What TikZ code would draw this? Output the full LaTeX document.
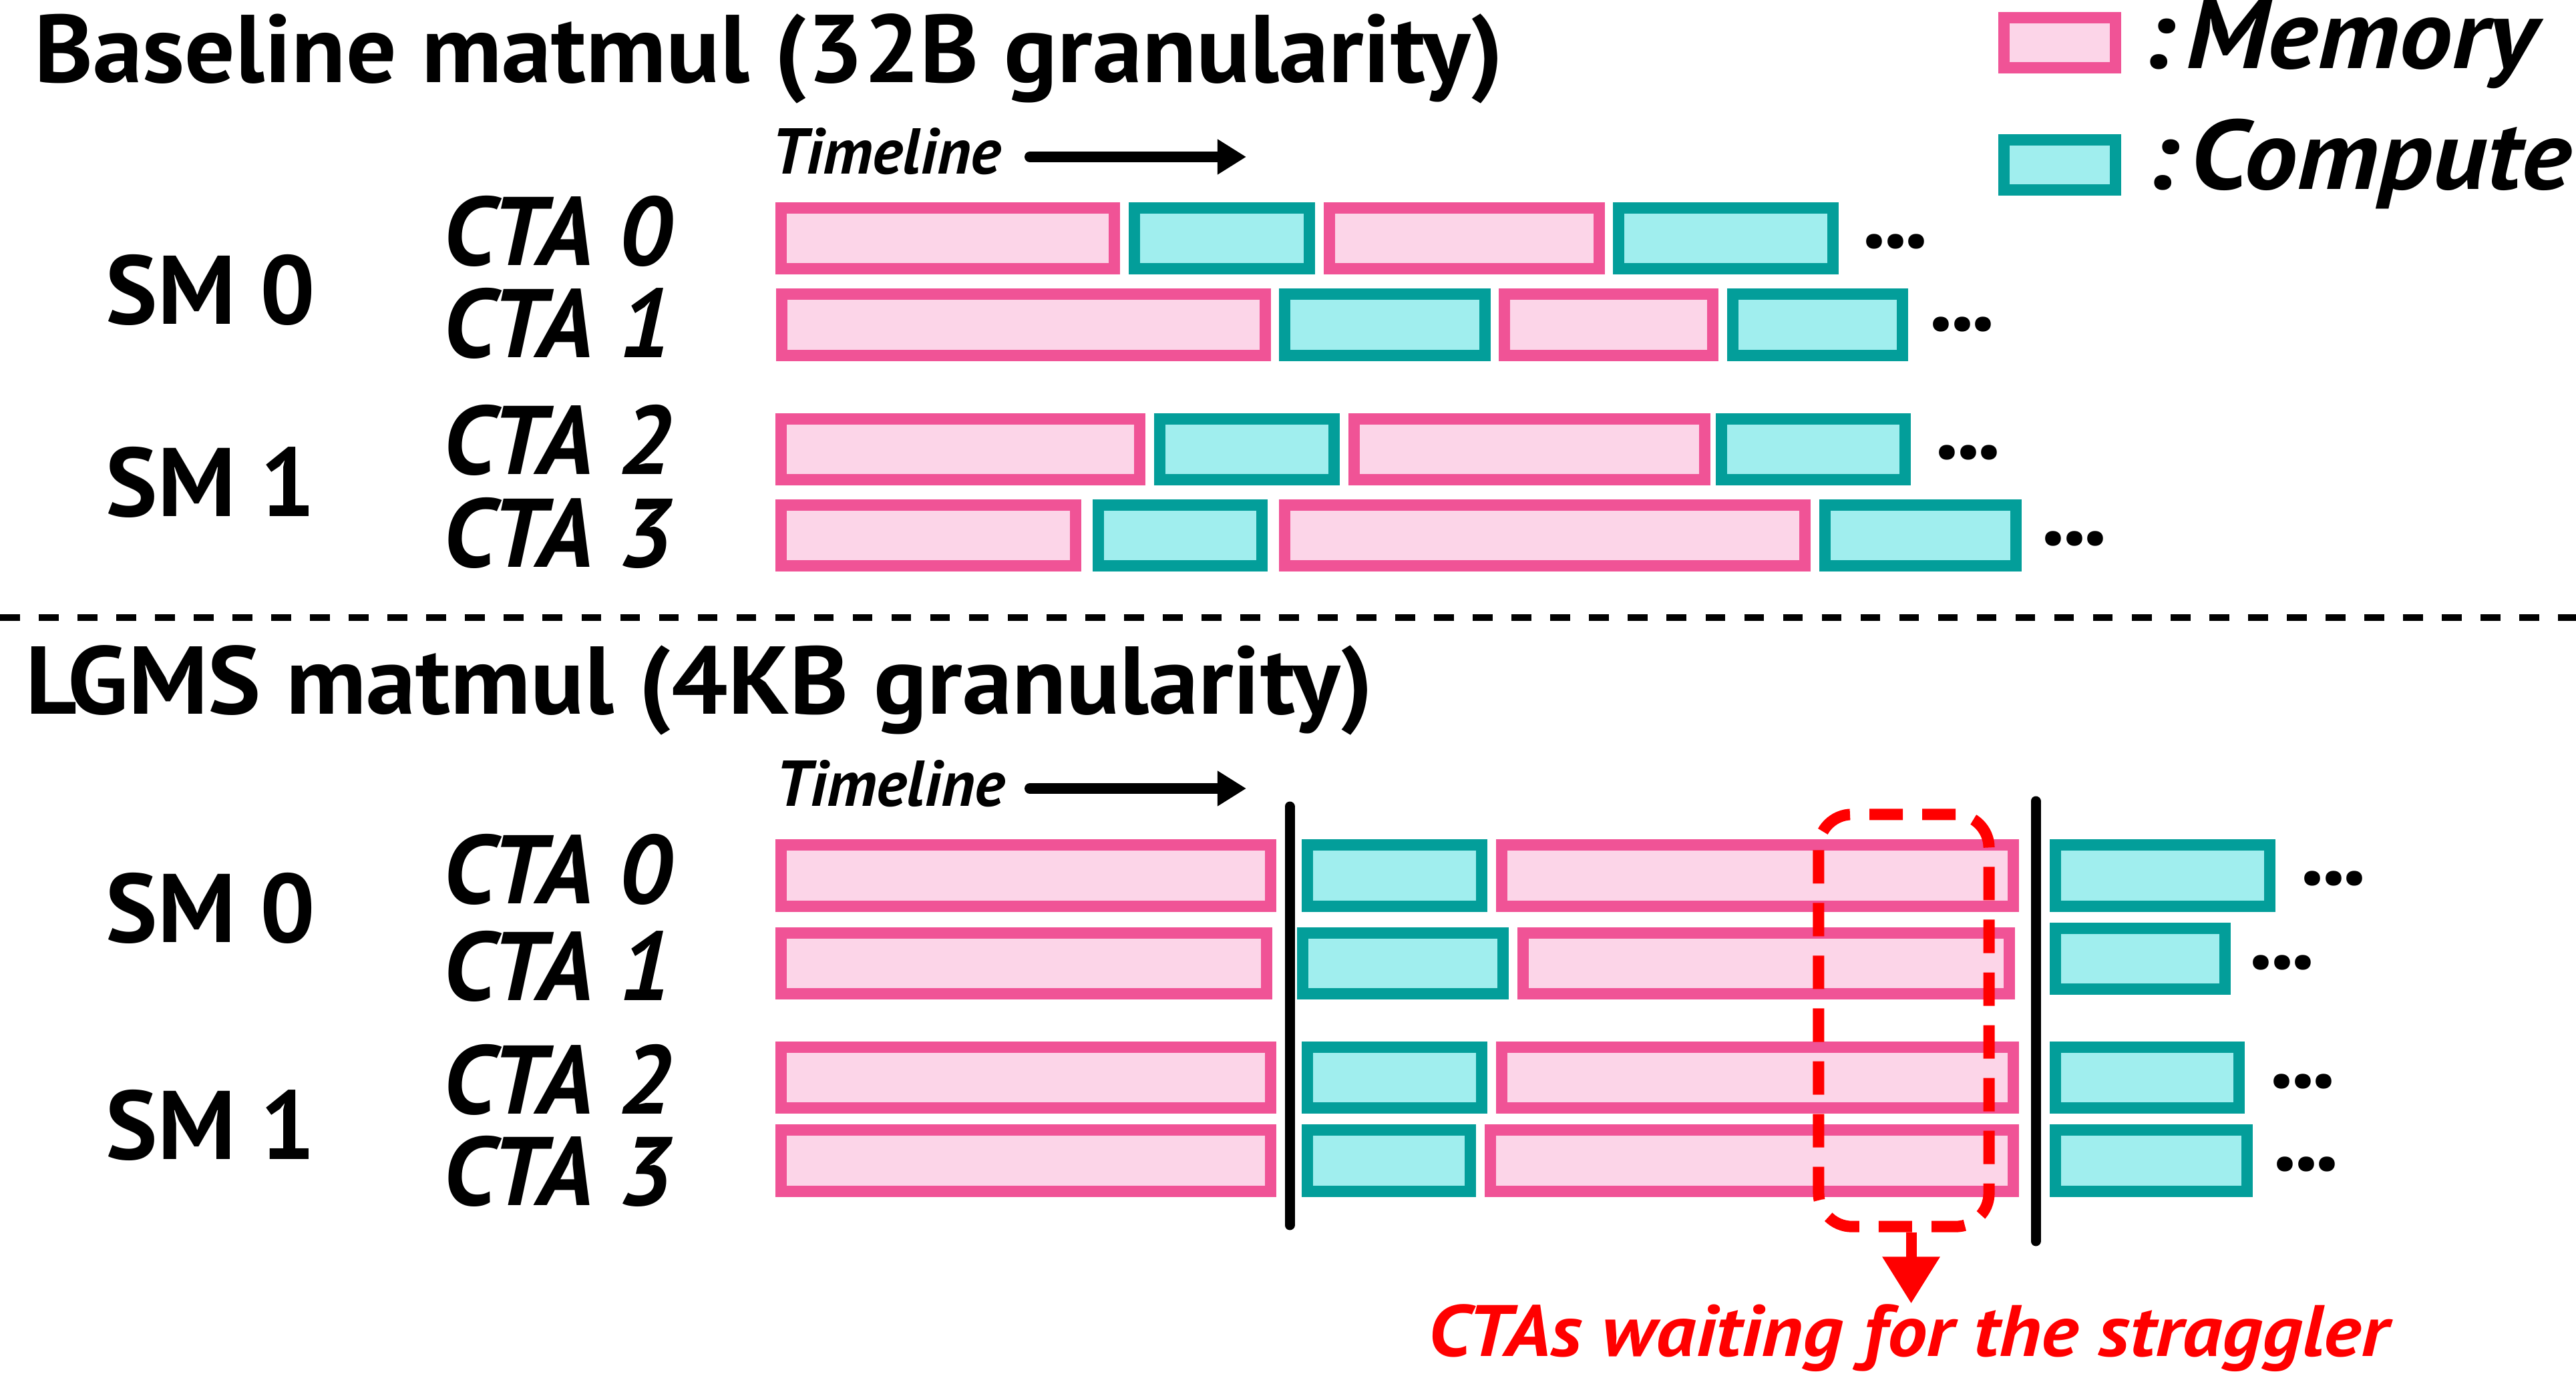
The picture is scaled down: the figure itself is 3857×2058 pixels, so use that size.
\documentclass[tikz,border=0pt]{standalone}
\usepackage{fontspec}
\setmainfont{PT Sans}
\usepackage{tikz}
\usetikzlibrary{arrows.meta}

\definecolor{memline}{HTML}{F05396}
\definecolor{memfill}{HTML}{FCD5E8}
\definecolor{compline}{HTML}{039E9A}
\definecolor{compfill}{HTML}{A0EEEE}

\begin{document}
\begin{tikzpicture}[
  x=0.01cm, y=-0.01cm,
  mem/.style={draw=memline, fill=memfill, line width=0.17cm},
  comp/.style={draw=compline, fill=compfill, line width=0.17cm},
  title/.style={anchor=base west, inner sep=0pt,
    font=\fontsize{41}{45}\selectfont\bfseries\addfontfeatures{FakeStretch=1.035}},
  sm/.style={anchor=base west, inner sep=0pt, font=\fontsize{41.5}{45}\selectfont\bfseries},
  cta/.style={anchor=base west, inner sep=0pt, font=\fontsize{41.5}{45}\selectfont\bfseries\itshape},
  more/.style={anchor=base west, inner sep=0pt, font=\fontsize{41.5}{45}\selectfont\bfseries},
  tline/.style={anchor=base west, inner sep=0pt, font=\fontsize{27.6}{30}\selectfont\bfseries\itshape},
  legtext/.style={anchor=base west, inner sep=0pt,
    font=\fontsize{42}{46}\selectfont\bfseries\itshape\addfontfeatures{FakeStretch=1.08}},
  tarrow/.style={line width=0.16cm, line cap=round, -{Triangle[length=0.43cm, width=0.5cm]}},
  sync/.style={line width=0.15cm, line cap=round},
  strag/.style={draw=red, line width=0.17cm, dash pattern=on 0.5cm off 0.29cm,
    rounded corners=0.5cm, minimum width=2.55cm, minimum height=6.17cm, inner sep=0pt},
  redarr/.style={draw=red, line width=0.16cm, -{Triangle[length=0.7cm, width=0.82cm]}}
]
\useasboundingbox (0,0) rectangle (3857,2058);

% Legend
\draw[mem] (3000.5,26.5) rectangle (3167.5,101.5);
\draw[comp] (3000.5,209.5) rectangle (3167.5,284.5);
\node[legtext] (lmem) at (3205,103) {:\hspace{0.12em}Memory};
\node[legtext] (lcomp) at (3211,284) {:\hspace{0.12em}Compute};

% Top: baseline
\node[title] (t1) at (51,124) {Baseline matmul (32B granularity)};
\node[tline] (tl1) at (1155,261) {Timeline};
\coordinate (ta1) at (1542,235);
\coordinate (tb1) at (1866,235);
\draw[tarrow] (ta1) -- (tb1);

\node[sm] (s0a) at (158,486) {SM 0};
\node[sm] (s1a) at (158,773) {SM 1};
\node[cta] (c0a) at (663,398) {CTA 0};
\node[cta] (c1a) at (663,536) {CTA 1};
\node[cta] (c2a) at (663,710) {CTA 2};
\node[cta] (c3a) at (663,849) {CTA 3};

\foreach \xa/\xb/\kind in {1161/1677/mem, 1690/1969/comp, 1982/2403/mem, 2415/2753/comp}
  \draw[\kind] ({\xa+8.5},311.5) rectangle ({\xb-8.5},402.5);
\foreach \xa/\xb/\kind in {1162/1903/mem, 1915/2232/comp, 2244/2573/mem, 2586/2857/comp}
  \draw[\kind] ({\xa+8.5},440.5) rectangle ({\xb-8.5},532.5);
\foreach \xa/\xb/\kind in {1161/1715/mem, 1728/2006/comp, 2019/2561/mem, 2569/2861/comp}
  \draw[\kind] ({\xa+8.5},627.5) rectangle ({\xb-8.5},718.5);
\foreach \xa/\xb/\kind in {1161/1619/mem, 1636/1898/comp, 1915/2711/mem, 2724/3027/comp}
  \draw[\kind] ({\xa+8.5},756.5) rectangle ({\xb-8.5},847.5);

\node[more] (m0a) at (2788,372) {.\kern-1.3pt.\kern-1.3pt.};
\node[more] (m1a) at (2888,495) {.\kern-1.3pt.\kern-1.3pt.};
\node[more] (m2a) at (2897,687) {.\kern-1.3pt.\kern-1.3pt.};
\node[more] (m3a) at (3056,816) {.\kern-1.3pt.\kern-1.3pt.};

% separator
\draw[line width=0.1cm, dash pattern=on 0.296cm off 0.284cm] (0,925) -- (3857,925);

% Bottom: LGMS
\node[title] (t2) at (38,1069) {LGMS matmul (4KB granularity)};
\node[tline] (tl2) at (1161,1207) {Timeline};
\coordinate (ta2) at (1542,1181);
\coordinate (tb2) at (1866,1181);
\draw[tarrow] (ta2) -- (tb2);

\node[sm] (s0b) at (158,1411) {SM 0};
\node[sm] (s1b) at (158,1736) {SM 1};
\node[cta] (c0b) at (663,1353) {CTA 0};
\node[cta] (c1b) at (663,1498) {CTA 1};
\node[cta] (c2b) at (663,1668) {CTA 2};
\node[cta] (c3b) at (663,1805) {CTA 3};

\foreach \xa/\xb/\kind in {1161/1911/mem, 1949/2227/comp, 2240/3023/mem, 3069/3407/comp}
  \draw[\kind] ({\xa+8.5},1265.5) rectangle ({\xb-8.5},1357.5);
\foreach \xa/\xb/\kind in {1161/1905/mem, 1942/2259/comp, 2272/3017/mem}
  \draw[\kind] ({\xa+8.5},1397.5) rectangle ({\xb-8.5},1488.5);
\draw[comp] (3077.5,1390.5) rectangle (3331.5,1481.5);
\foreach \xa/\xb/\kind in {1161/1911/mem, 1949/2227/comp, 2240/3023/mem, 3069/3361/comp}
  \draw[\kind] ({\xa+8.5},1568.5) rectangle ({\xb-8.5},1659.5);
\foreach \xa/\xb/\kind in {1161/1911/mem, 1949/2210/comp, 2223/3023/mem, 3069/3373/comp}
  \draw[\kind] ({\xa+8.5},1692.5) rectangle ({\xb-8.5},1784.5);

\node[more] (m0b) at (3444,1325) {.\kern-1.3pt.\kern-1.3pt.};
\node[more] (m1b) at (3367,1451) {.\kern-1.3pt.\kern-1.3pt.};
\node[more] (m2b) at (3398,1629) {.\kern-1.3pt.\kern-1.3pt.};
\node[more] (m3b) at (3403,1753) {.\kern-1.3pt.\kern-1.3pt.};

% sync points
\coordinate (ya) at (1931,1208);
\coordinate (yb) at (1931,1835);
\draw[sync] (ya) -- (yb);
\coordinate (za) at (3048,1200);
\coordinate (zb) at (3048,1859);
\draw[sync] (za) -- (zb);

% straggler
\node[strag] (strag) at (2850.5,1528.5) {};
\node[anchor=base west, inner sep=0pt, text=red,
  font=\fontsize{31}{34}\selectfont\bfseries\itshape\addfontfeatures{FakeStretch=1.09}]
  (wait) at (2138,2031) {CTAs waiting for the straggler};
\draw[redarr] ([xshift=0.11cm]strag.south) -- ([xshift=0.11cm]strag.south |- wait.north);
\end{tikzpicture}
\end{document}
